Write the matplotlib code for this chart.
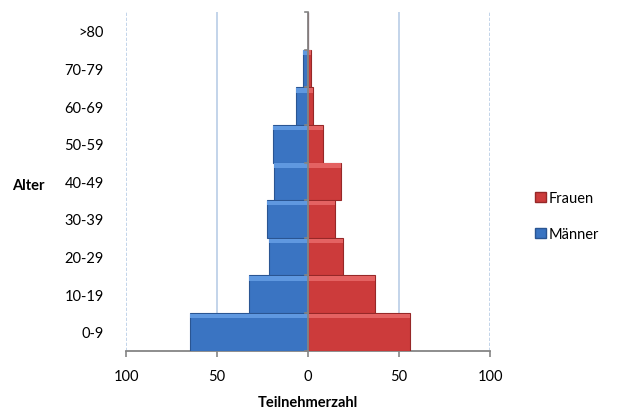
import matplotlib.pyplot as plt
from matplotlib.ticker import FuncFormatter
from matplotlib.patches import Patch

plt.rcParams['font.family'] = ['Lato', 'DejaVu Sans']

# Altersgruppen (unten -> oben)
alter = ["0-9", "10-19", "20-29", "30-39", "40-49", "50-59", "60-69", "70-79", ">80"]
maenner = [65, 32.5, 21.5, 22.5, 18.5, 19.5, 6.5, 3, 0]
frauen = [56, 37, 19, 15, 18, 8.5, 3, 1.5, 0]

blau = "#3a74c2"
blau_hell = "#5f98e0"
blau_rand = "#2a5592"
rot = "#cc3b3b"
rot_hell = "#e46262"
rot_rand = "#962828"

fig = plt.figure(figsize=(6.18, 4.14), dpi=100)
ax = fig.add_axes([0.2039, 0.1505, 0.589, 0.8181])

y = list(range(len(alter)))
neg = [-m for m in maenner]
ax.barh(y, neg, height=1.0, color=blau, edgecolor=blau_rand, linewidth=0.8, zorder=3)
ax.barh(y, frauen, height=1.0, color=rot, edgecolor=rot_rand, linewidth=0.8, zorder=3)
# heller Rand oben (Fase)
ax.barh([v + 0.42 for v in y], neg, height=0.12, color=blau_hell, linewidth=0, zorder=3.5)
ax.barh([v + 0.42 for v in y], frauen, height=0.12, color=rot_hell, linewidth=0, zorder=3.5)

ax.set_xlim(-100, 100)
ax.set_ylim(-0.5, len(alter) - 0.5)

# Gitterlinien
for x in (-50, 50):
    ax.axvline(x, color="#b9cde6", linewidth=1.2, zorder=1)
for x in (-100, 100):
    ax.axvline(x, color="#b9cde6", linewidth=1.2, linestyle=(0, (2, 1)), zorder=1)

# Kategorieachse in der Mitte
ax.axvline(0, color="#858585", linewidth=1.3, zorder=4)
for b in range(len(alter) + 1):
    ax.plot([-1.6, 0], [b - 0.5, b - 0.5], color="#858585", linewidth=1.2, zorder=4, clip_on=False)

for s in ("top", "right", "left"):
    ax.spines[s].set_visible(False)
ax.spines["bottom"].set_color("#858585")
ax.spines["bottom"].set_linewidth(1.3)

ax.set_xticks([-100, -50, 0, 50, 100])
ax.xaxis.set_major_formatter(FuncFormatter(lambda v, p: f"{abs(int(v))}"))
ax.tick_params(axis="x", length=4, width=1.2, color="#858585", labelsize=10.5, pad=9)
ax.set_yticks(y)
ax.set_yticklabels(alter)
ax.tick_params(axis="y", length=0, labelsize=10.5, pad=16)

ax.set_xlabel("Teilnehmerzahl", fontsize=10.5, fontweight="bold", labelpad=9)
fig.text(0.019, 0.55, "Alter", fontsize=10.5, fontweight="bold", va="center", ha="left")

handles = [Patch(facecolor=rot, edgecolor=rot_rand, label="Frauen"),
           Patch(facecolor=blau, edgecolor=blau_rand, label="Männer")]
fig.legend(handles=handles, loc="center left", bbox_to_anchor=(0.845, 0.475), frameon=False,
           fontsize=10.5, handlelength=0.7, handleheight=0.7, handletextpad=0.2, labelspacing=1.5)

fig.savefig("out.png", dpi=100)
